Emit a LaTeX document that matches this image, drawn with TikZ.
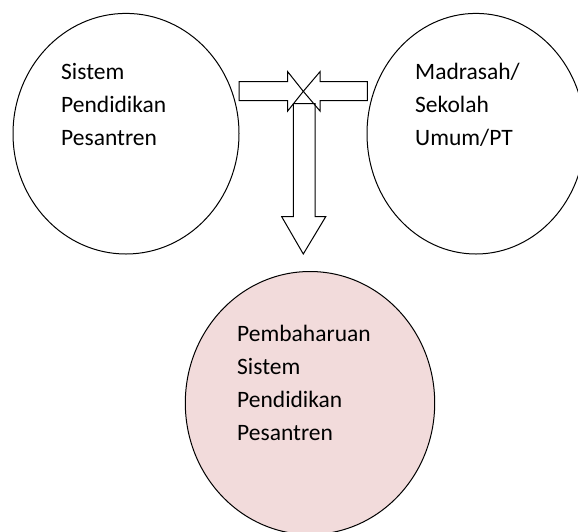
\documentclass[tikz,border=0pt]{standalone}
\usepackage{fontspec}
\setmainfont{Carlito}
\definecolor{pinkfill}{HTML}{F2DBDB}
\begin{document}
\begin{tikzpicture}[x=1pt,y=-1pt,
  circ/.style={draw=black,line width=1pt},
  lbl/.style={anchor=base west,inner sep=0pt,font=\fontsize{23.5}{33}\selectfont},
  blockarrow/.style={draw=black,line width=1pt,line join=miter}]
\useasboundingbox (0,0) rectangle (578,531);
% circles
\draw[circ] (126,133.7) ellipse [x radius=113,y radius=120.3];
\draw[circ] (476,133.7) ellipse [x radius=109,y radius=120.3];
\draw[circ,fill=pinkfill] (310,403) ellipse [x radius=124.7,y radius=131.5];
% texts
\node[lbl] (l1) at (61,79.5) {Sistem};
\node[lbl] (l2) at (61,112.5) {Pendidikan};
\node[lbl] (l3) at (61,145.5) {Pesantren};
\node[lbl] (r1) at (415,79.5) {Madrasah/};
\node[lbl] (r2) at (415,112.5) {Sekolah};
\node[lbl] (r3) at (415,145.5) {Umum/PT};
\node[lbl] (b1) at (237,341) {Pembaharuan};
\node[lbl] (b2) at (237,374.3) {Sistem};
\node[lbl] (b3) at (237,407.6) {Pendidikan};
\node[lbl] (b4) at (237,440.9) {Pesantren};
% arrows
\coordinate (tip) at (303.3,91.35);
\draw[blockarrow] (239,81.7) -- (287.7,81.7) -- (287.7,71.7) -- (tip) -- (287.7,111) -- (287.7,100.7) -- (239,100.7) -- cycle;
\draw[blockarrow] (367.3,81.7) -- (320,81.7) -- (320,71.7) -- (tip) -- (320,111) -- (320,100.7) -- (367.3,100.7) -- cycle;
\draw[blockarrow] (293.3,103.5) -- (315,103.5) -- (315,216.7) -- (325.7,216.7) -- (303.3,254) -- (281.7,216.7) -- (293.3,216.7) -- cycle;
\end{tikzpicture}
\end{document}
